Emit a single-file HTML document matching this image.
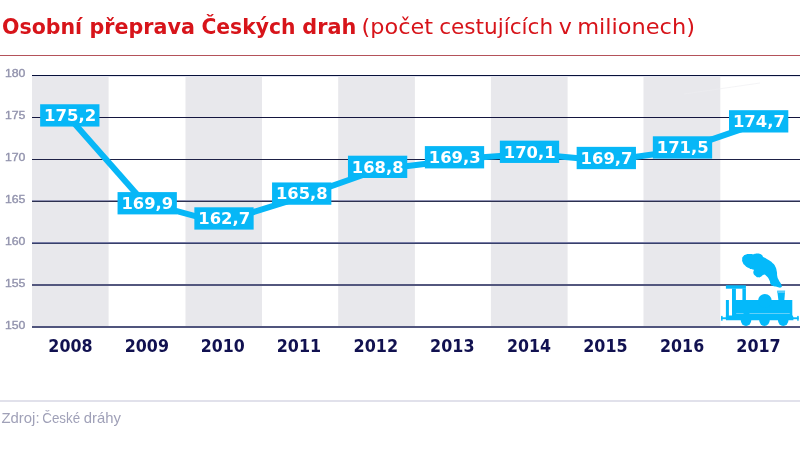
<!DOCTYPE html>
<html lang="cs"><head><meta charset="utf-8"><title>Osobní přeprava Českých drah</title>
<style>html,body{margin:0;padding:0;background:#fff;overflow:hidden}svg{display:block;will-change:transform}.b{font-family:"DejaVu Sans","Liberation Sans",sans-serif;font-weight:bold}.r{font-family:"DejaVu Sans","Liberation Sans",sans-serif;font-weight:normal}.s{font-family:"Liberation Sans",sans-serif}</style></head><body>
<svg width="800" height="449" viewBox="0 0 800 449">
<rect width="800" height="449" fill="#fff"/>
<g id="title">
<text class="b" x="1.92" y="33.60" font-size="21.4" fill="#d7141a" textLength="80.26" lengthAdjust="spacingAndGlyphs">Osobní</text>
<text class="b" x="89.51" y="33.60" font-size="21.4" fill="#d7141a" textLength="105.44" lengthAdjust="spacingAndGlyphs">přeprava</text>
<text class="b" x="201.43" y="33.60" font-size="21.4" fill="#d7141a" textLength="93.96" lengthAdjust="spacingAndGlyphs">Českých</text>
<text class="b" x="302.33" y="33.60" font-size="21.4" fill="#d7141a" textLength="54.00" lengthAdjust="spacingAndGlyphs">drah</text>
<text class="r" x="361.54" y="33.60" font-size="21.4" fill="#d7141a" textLength="71.55" lengthAdjust="spacingAndGlyphs">(počet</text>
<text class="r" x="439.16" y="33.60" font-size="21.4" fill="#d7141a" textLength="113.99" lengthAdjust="spacingAndGlyphs">cestujících</text>
<text class="r" x="558.85" y="33.60" font-size="21.4" fill="#d7141a" textLength="13.14" lengthAdjust="spacingAndGlyphs">v</text>
<text class="r" x="577.20" y="33.60" font-size="21.4" fill="#d7141a" textLength="117.79" lengthAdjust="spacingAndGlyphs">milionech)</text>
</g>
<rect x="0" y="55" width="800" height="1" fill="#b4525a"/>
<g id="bands" fill="#e8e8ec">
<rect x="32" y="76" width="76.60" height="251"/>
<rect x="185.5" y="76" width="76.50" height="251"/>
<rect x="338.2" y="76" width="76.70" height="251"/>
<rect x="490.9" y="76" width="76.70" height="251"/>
<rect x="643.5" y="76" width="76.80" height="251"/>
</g>
<g id="grid" shape-rendering="crispEdges">
<rect x="32" y="75" width="768" height="1" fill="#07103a"/>
<rect x="32" y="76" width="768" height="1" fill="#e3e5f0"/>
<rect x="32" y="117" width="768" height="1" fill="#14163f"/>
<rect x="32" y="159" width="768" height="1" fill="#1e2146"/>
<rect x="32" y="200" width="768" height="1" fill="#8f91b3"/>
<rect x="32" y="201" width="768" height="1" fill="#2c304f"/>
<rect x="32" y="242" width="768" height="1" fill="#787ca6"/>
<rect x="32" y="243" width="768" height="1" fill="#37406a"/>
<rect x="32" y="284" width="768" height="1" fill="#53577e"/>
<rect x="32" y="285" width="768" height="1" fill="#53577e"/>
<rect x="32" y="326" width="768" height="1" fill="#50557d"/>
<rect x="32" y="327" width="768" height="1" fill="#50557d"/>
</g>
<g id="ylabels" stroke="#9293ad" stroke-width="0.35">
<text class="s" x="4.92" y="77.30" font-size="11" fill="#9293ad" textLength="20.51" lengthAdjust="spacingAndGlyphs">180</text>
<text class="s" x="4.92" y="119.20" font-size="11" fill="#9293ad" textLength="20.51" lengthAdjust="spacingAndGlyphs">175</text>
<text class="s" x="4.92" y="161.10" font-size="11" fill="#9293ad" textLength="20.51" lengthAdjust="spacingAndGlyphs">170</text>
<text class="s" x="4.92" y="203.00" font-size="11" fill="#9293ad" textLength="20.51" lengthAdjust="spacingAndGlyphs">165</text>
<text class="s" x="4.92" y="244.90" font-size="11" fill="#9293ad" textLength="20.51" lengthAdjust="spacingAndGlyphs">160</text>
<text class="s" x="4.92" y="286.80" font-size="11" fill="#9293ad" textLength="20.51" lengthAdjust="spacingAndGlyphs">155</text>
<text class="s" x="4.92" y="328.60" font-size="11" fill="#9293ad" textLength="20.51" lengthAdjust="spacingAndGlyphs">150</text>
</g>
<line x1="684" y1="94" x2="760" y2="83" stroke="#ececf0" stroke-width="0.6"/>
<g id="line" stroke="#07b7f7" stroke-width="6" fill="none">
<line x1="74.21" y1="123.20" x2="142.79" y2="201.05"/>
<line x1="161.20" y1="206.86" x2="210.00" y2="220.14"/>
<line x1="238.00" y1="216.80" x2="287.70" y2="201.45"/>
<line x1="315.70" y1="191.67" x2="363.60" y2="174.78"/>
<line x1="391.60" y1="168.10" x2="440.50" y2="162.00"/>
<line x1="468.50" y1="158.23" x2="515.50" y2="154.82"/>
<line x1="543.50" y1="155.05" x2="592.30" y2="159.55"/>
<line x1="620.30" y1="158.96" x2="668.50" y2="152.29"/>
<line x1="696.50" y1="144.65" x2="744.65" y2="128.15"/>
</g>
<g id="labels">
<rect x="40.15" y="104.25" width="59.3" height="22.3" fill="#07b7f7"/>
<text class="b" x="44.05" y="121.25" font-size="16.7" fill="#fff" textLength="52.08" lengthAdjust="spacingAndGlyphs">175,2</text>
<rect x="117.55" y="192.10" width="59.3" height="22.3" fill="#07b7f7"/>
<text class="b" x="121.47" y="209.10" font-size="16.7" fill="#fff" textLength="51.68" lengthAdjust="spacingAndGlyphs">169,9</text>
<rect x="194.35" y="207.30" width="59.3" height="22.3" fill="#07b7f7"/>
<text class="b" x="198.26" y="224.30" font-size="16.7" fill="#fff" textLength="51.94" lengthAdjust="spacingAndGlyphs">162,7</text>
<rect x="272.05" y="182.45" width="59.3" height="22.3" fill="#07b7f7"/>
<text class="b" x="275.97" y="199.45" font-size="16.7" fill="#fff" textLength="51.68" lengthAdjust="spacingAndGlyphs">165,8</text>
<rect x="347.95" y="155.70" width="59.3" height="22.3" fill="#07b7f7"/>
<text class="b" x="351.87" y="172.70" font-size="16.7" fill="#fff" textLength="51.68" lengthAdjust="spacingAndGlyphs">168,8</text>
<rect x="424.85" y="146.10" width="59.3" height="22.3" fill="#07b7f7"/>
<text class="b" x="428.76" y="163.10" font-size="16.7" fill="#fff" textLength="51.94" lengthAdjust="spacingAndGlyphs">169,3</text>
<rect x="499.85" y="140.65" width="59.3" height="22.3" fill="#07b7f7"/>
<text class="b" x="503.76" y="157.65" font-size="16.7" fill="#fff" textLength="51.81" lengthAdjust="spacingAndGlyphs">170,1</text>
<rect x="576.65" y="146.85" width="59.3" height="22.3" fill="#07b7f7"/>
<text class="b" x="580.56" y="163.85" font-size="16.7" fill="#fff" textLength="51.94" lengthAdjust="spacingAndGlyphs">169,7</text>
<rect x="652.85" y="136.30" width="59.3" height="22.3" fill="#07b7f7"/>
<text class="b" x="656.76" y="153.30" font-size="16.7" fill="#fff" textLength="51.81" lengthAdjust="spacingAndGlyphs">171,5</text>
<rect x="729.00" y="110.20" width="59.3" height="22.3" fill="#07b7f7"/>
<text class="b" x="732.91" y="127.20" font-size="16.7" fill="#fff" textLength="51.94" lengthAdjust="spacingAndGlyphs">174,7</text>
</g>
<g id="years">
<text class="b" x="48.37" y="351.90" font-size="17.1" fill="#111150" textLength="44.19" lengthAdjust="spacingAndGlyphs">2008</text>
<text class="b" x="124.77" y="351.90" font-size="17.1" fill="#111150" textLength="44.19" lengthAdjust="spacingAndGlyphs">2009</text>
<text class="b" x="200.78" y="351.90" font-size="17.1" fill="#111150" textLength="43.95" lengthAdjust="spacingAndGlyphs">2010</text>
<text class="b" x="276.77" y="351.90" font-size="17.1" fill="#111150" textLength="44.31" lengthAdjust="spacingAndGlyphs">2011</text>
<text class="b" x="353.56" y="351.90" font-size="17.1" fill="#111150" textLength="44.56" lengthAdjust="spacingAndGlyphs">2012</text>
<text class="b" x="430.07" y="351.90" font-size="17.1" fill="#111150" textLength="44.44" lengthAdjust="spacingAndGlyphs">2013</text>
<text class="b" x="507.08" y="351.90" font-size="17.1" fill="#111150" textLength="43.95" lengthAdjust="spacingAndGlyphs">2014</text>
<text class="b" x="583.27" y="351.90" font-size="17.1" fill="#111150" textLength="44.31" lengthAdjust="spacingAndGlyphs">2015</text>
<text class="b" x="660.08" y="351.90" font-size="17.1" fill="#111150" textLength="44.07" lengthAdjust="spacingAndGlyphs">2016</text>
<text class="b" x="736.27" y="351.90" font-size="17.1" fill="#111150" textLength="44.44" lengthAdjust="spacingAndGlyphs">2017</text>
</g>
<g id="train" fill="#04b9fa">
<path d="M742.2 259.4 C742.3 257.5 741.8 258.1 743.1 256.5 C744.4 254.9 743.6 255.4 746.0 254.5 C748.4 253.6 747.6 254.0 750.2 253.9 C752.8 253.8 751.7 254.3 753.9 254.2 C756.1 254.1 754.8 253.8 756.7 253.6 C758.6 253.4 757.8 253.2 759.5 253.7 C761.2 254.2 760.6 254.0 761.9 255.1 C763.2 256.2 761.9 255.9 763.3 257.0 C764.7 258.1 763.9 257.1 766.1 258.4 C768.3 259.7 767.5 259.1 769.8 260.8 C772.1 262.5 771.2 261.6 773.1 263.6 C775.0 265.6 774.2 264.2 775.4 266.8 C776.6 269.4 776.2 268.4 776.8 271.5 C777.4 274.6 776.7 273.4 777.3 276.2 C777.9 279.0 777.3 276.9 778.7 279.9 C780.1 282.9 780.9 282.6 781.5 285.1 C782.1 287.6 782.0 286.8 780.6 287.4 C779.2 288.0 779.8 287.5 777.3 287.0 C774.8 286.5 775.3 287.0 773.1 286.0 C770.9 285.0 772.0 286.1 770.7 284.1 C769.4 282.1 770.8 282.7 769.3 279.9 C767.8 277.1 768.0 277.4 766.1 275.7 C764.2 274.0 765.4 274.5 763.7 274.8 C762.0 275.1 762.8 275.9 760.9 276.7 C759.0 277.5 760.0 277.6 758.1 277.3 C756.2 277.0 756.9 277.2 755.3 275.7 C753.7 274.2 753.9 274.8 753.4 272.9 C752.9 271.0 754.2 271.3 753.7 270.1 C753.2 268.9 753.8 270.0 752.0 269.2 C750.2 268.4 750.6 269.1 748.3 267.8 C746.0 266.5 746.9 267.3 745.0 265.4 C743.1 263.5 743.6 264.2 742.7 262.2 C741.8 260.2 742.1 261.3 742.2 259.4Z"/>
<rect x="725.9" y="285.3" width="20" height="3.4"/>
<rect x="732" y="288.5" width="3.9" height="27"/>
<rect x="742.4" y="288.5" width="3.5" height="13"/>
<rect x="725.9" y="300" width="3" height="18"/>
<rect x="732" y="300" width="60.3" height="18"/>
<circle cx="764.9" cy="300.9" r="6.9"/>
<path d="M777.2 290.8 L785.1 290.8 L784.3 301 L778.5 301 Z"/>
<path d="M777.2 290.8 L785.1 290.8 L784.9 293 L777.4 293 Z" fill="#56cdfb"/>
<path d="M725.9 315.6 H792.6 L793.4 317 V320.2 H725.9 Z"/>
<rect x="721.1" y="317.3" width="6" height="1.9"/><rect x="721.1" y="315.9" width="1.5" height="4.8"/>
<rect x="792" y="317.3" width="6.6" height="1.9"/><rect x="797.2" y="315.9" width="1.5" height="4.8"/>
<path d="M740.7 320 A5.3 6.0 0 0 0 751.3 320 Z"/>
<path d="M759.2 320 A5.3 6.0 0 0 0 769.8 320 Z"/>
<path d="M777.9000000000001 320 A5.3 6.0 0 0 0 788.5 320 Z"/>
<rect x="736.2" y="313.1" width="7.3" height="0.7" fill="#8bdaf8"/><rect x="749.5" y="313.1" width="40.3" height="0.7" fill="#8bdaf8"/>
</g>
<rect x="0" y="400.5" width="800" height="1" fill="#c4c4d7"/>
<g id="source">
<text class="s" x="1.49" y="422.80" font-size="14.5" fill="#a0a1b8" textLength="38.06" lengthAdjust="spacingAndGlyphs">Zdroj:</text>
<text class="s" x="42.31" y="422.80" font-size="14.5" fill="#a0a1b8" textLength="37.84" lengthAdjust="spacingAndGlyphs">České</text>
<text class="s" x="83.86" y="422.80" font-size="14.5" fill="#a0a1b8" textLength="37.16" lengthAdjust="spacingAndGlyphs">dráhy</text>
</g>
</svg></body></html>
